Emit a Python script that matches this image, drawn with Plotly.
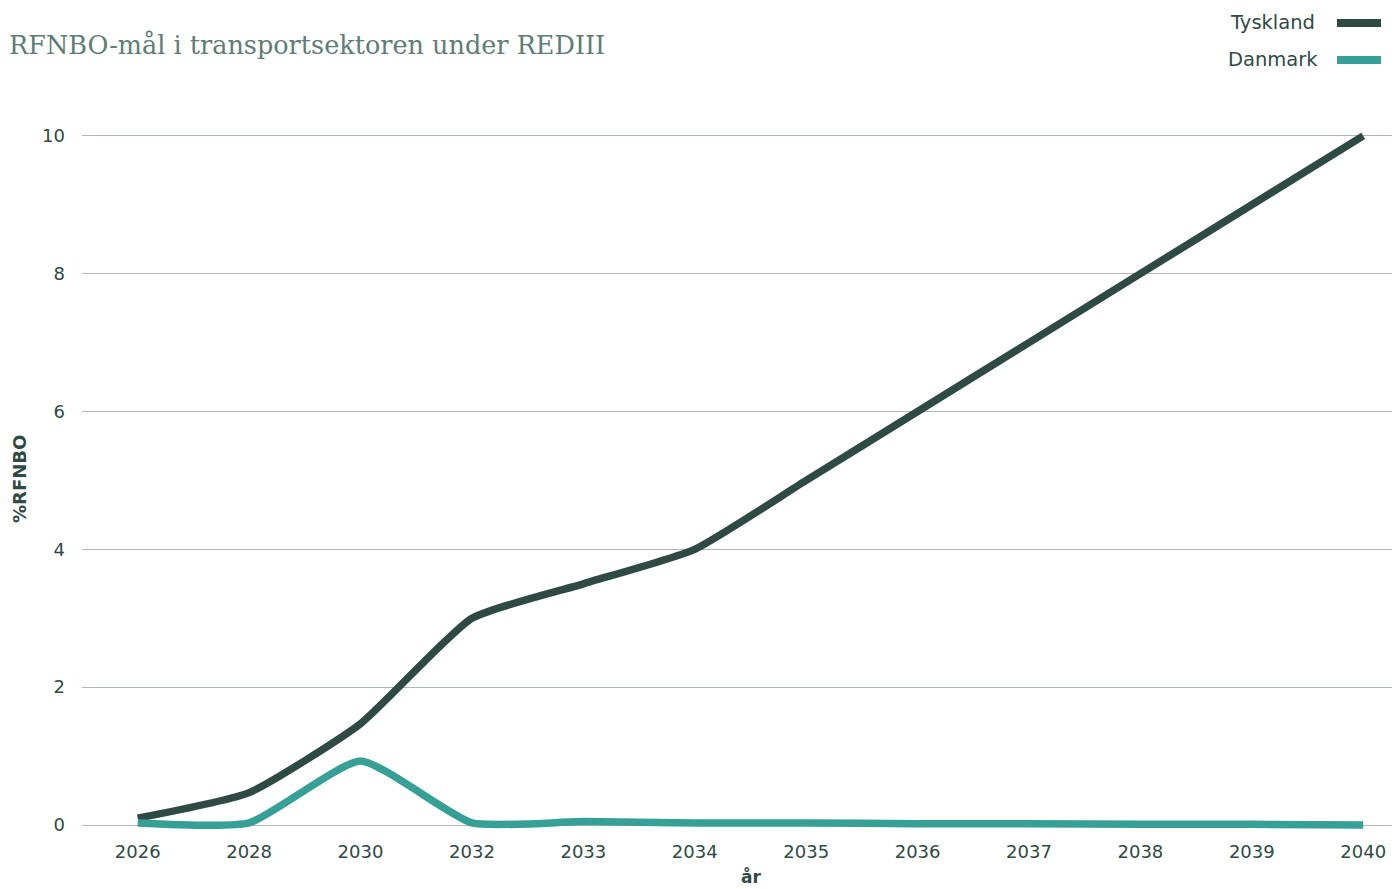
import plotly.graph_objects as go

years = ["2026", "2028", "2030", "2032", "2033", "2034", "2035", "2036", "2037", "2038", "2039", "2040"]
tyskland = [0.1, 0.47, 1.47, 3.0, 3.5, 4.0, 5.0, 6.0, 7.0, 8.0, 9.0, 10.0]
danmark = [0.03, 0.03, 0.93, 0.03, 0.05, 0.03, 0.03, 0.02, 0.02, 0.01, 0.01, 0.0]
y_ticks = [0, 2, 4, 6, 8, 10]

c_de = "#2e4a43"
c_dk = "#36a097"
txt = "#2f4a44"
grid = "#b0b9b7"

W, H = 1392, 881
L, R, T, B = 74, 0, 92, 50
OFF = 8
PW, PH = W - L - R, H - T - B


def px(X):
    return (X - OFF - L) / PW


def py(Y):
    return 1 - (Y - OFF - T) / PH


fig = go.Figure()
fig.add_trace(go.Scatter(x=years, y=tyskland, mode="lines", name="Tyskland",
                         line=dict(color=c_de, width=7.5, shape="spline", smoothing=0.5),
                         showlegend=False))
fig.add_trace(go.Scatter(x=years, y=danmark, mode="lines", name="Danmark",
                         line=dict(color=c_dk, width=7.5, shape="spline", smoothing=0.5),
                         showlegend=False))

font = "DejaVu Sans, sans-serif"
fig.update_layout(
    width=W, height=H,
    paper_bgcolor="white", plot_bgcolor="white",
    margin=dict(l=L, r=R, t=T, b=B),
    font=dict(family=font, color=txt, size=18.5),
    xaxis=dict(type="category", range=[-0.5, 11.33], showgrid=False, zeroline=False,
               showline=False, ticks="", tickfont=dict(size=18, color=txt)),
    yaxis=dict(range=[-0.203, 10.52], tickvals=y_ticks, showgrid=True, gridcolor=grid,
               gridwidth=1, zeroline=False, showline=False, ticks="", ticklabelstandoff=16,
               tickfont=dict(size=18, color=txt)),
    annotations=[
        dict(text="RFNBO-mål i transportsektoren under REDIII", xref="paper", yref="paper",
             x=px(7), y=py(45), xanchor="left", yanchor="middle", showarrow=False,
             font=dict(family="DejaVu Serif, serif", size=25.5, color="#5e7d76")),
        dict(text="Tyskland", xref="paper", yref="paper", x=px(1317),
             y=py(23), xanchor="right", yanchor="middle", showarrow=False,
             font=dict(size=19.5, color=txt)),
        dict(text="Danmark", xref="paper", yref="paper", x=px(1320),
             y=py(60), xanchor="right", yanchor="middle", showarrow=False,
             font=dict(size=19.5, color=txt)),
        dict(text="<b>%RFNBO</b>", xref="paper", yref="paper", x=px(19), y=py(479),
             xanchor="center", yanchor="middle", textangle=-90, showarrow=False,
             font=dict(size=18, color=txt)),
        dict(text="<b>år</b>", xref="paper", yref="paper", x=px(751), y=py(876),
             xanchor="center", yanchor="middle", showarrow=False,
             font=dict(size=17, color=txt)),
    ],
    shapes=[
        dict(type="line", xref="paper", yref="paper", x0=px(1337), x1=px(1381),
             y0=py(23), y1=py(23), line=dict(color=c_de, width=8)),
        dict(type="line", xref="paper", yref="paper", x0=px(1337), x1=px(1381),
             y0=py(60), y1=py(60), line=dict(color=c_dk, width=8)),
    ],
)
fig.write_html("out.html")
